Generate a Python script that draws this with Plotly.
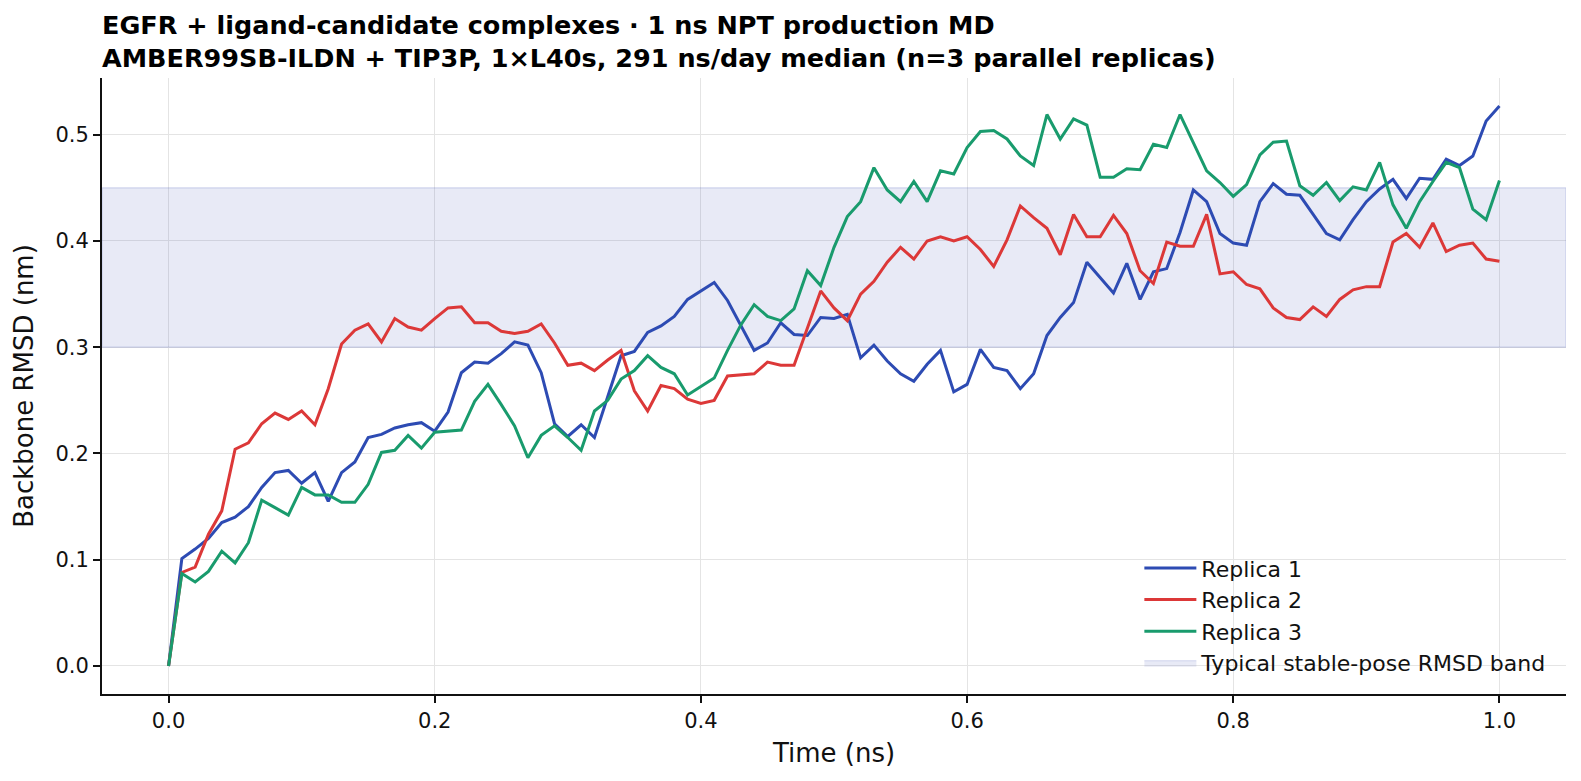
import plotly.graph_objects as go

time_ns = [round(i * 0.01, 2) for i in range(101)]

replica1 = [0.000, 0.101, 0.110, 0.120, 0.135, 0.140, 0.150, 0.168, 0.182, 0.184,
            0.172, 0.182, 0.155, 0.182, 0.192, 0.215, 0.218, 0.224, 0.227, 0.229,
            0.221, 0.239, 0.276, 0.286, 0.285, 0.294, 0.305, 0.302, 0.276, 0.228,
            0.216, 0.227, 0.215, 0.254, 0.292, 0.296, 0.314, 0.320, 0.329, 0.345,
            0.353, 0.361, 0.344, 0.320, 0.297, 0.304, 0.323, 0.312, 0.311, 0.328,
            0.327, 0.331, 0.290, 0.302, 0.287, 0.275, 0.268, 0.284, 0.297, 0.258,
            0.265, 0.298, 0.281, 0.278, 0.261, 0.275, 0.311, 0.328, 0.342, 0.380,
            0.366, 0.351, 0.379, 0.345, 0.371, 0.374, 0.408, 0.448, 0.437, 0.407,
            0.398, 0.396, 0.437, 0.454, 0.444, 0.443, 0.425, 0.407, 0.401, 0.420,
            0.437, 0.449, 0.458, 0.440, 0.459, 0.458, 0.477, 0.471, 0.480, 0.513,
            0.527]

replica2 = [0.000, 0.088, 0.093, 0.124, 0.146, 0.204, 0.210, 0.228, 0.238, 0.232,
            0.240, 0.227, 0.261, 0.303, 0.316, 0.322, 0.305, 0.327, 0.319, 0.316,
            0.327, 0.337, 0.338, 0.323, 0.323, 0.315, 0.313, 0.315, 0.322, 0.304,
            0.283, 0.285, 0.278, 0.288, 0.297, 0.259, 0.240, 0.264, 0.261, 0.251,
            0.247, 0.250, 0.273, 0.274, 0.275, 0.286, 0.283, 0.283, 0.317, 0.353,
            0.337, 0.325, 0.350, 0.362, 0.380, 0.394, 0.383, 0.400, 0.404, 0.400,
            0.404, 0.392, 0.376, 0.401, 0.433, 0.422, 0.412, 0.387, 0.425, 0.404,
            0.404, 0.424, 0.407, 0.372, 0.360, 0.399, 0.395, 0.395, 0.425, 0.369,
            0.371, 0.359, 0.355, 0.337, 0.328, 0.326, 0.338, 0.329, 0.345, 0.354,
            0.357, 0.357, 0.399, 0.407, 0.394, 0.417, 0.390, 0.396, 0.398, 0.383,
            0.381]

replica3 = [0.000, 0.087, 0.079, 0.089, 0.108, 0.097, 0.116, 0.156, 0.149, 0.142,
            0.168, 0.161, 0.161, 0.154, 0.154, 0.171, 0.201, 0.203, 0.217, 0.205,
            0.220, 0.221, 0.222, 0.249, 0.265, 0.246, 0.226, 0.196, 0.217, 0.226,
            0.215, 0.203, 0.240, 0.250, 0.270, 0.278, 0.292, 0.281, 0.275, 0.255,
            0.263, 0.271, 0.297, 0.321, 0.340, 0.329, 0.325, 0.336, 0.372, 0.358,
            0.394, 0.423, 0.437, 0.469, 0.448, 0.437, 0.456, 0.437, 0.466, 0.463,
            0.488, 0.503, 0.504, 0.496, 0.480, 0.471, 0.519, 0.496, 0.515, 0.509,
            0.460, 0.460, 0.468, 0.467, 0.491, 0.488, 0.519, 0.492, 0.466, 0.455,
            0.442, 0.453, 0.481, 0.493, 0.494, 0.452, 0.443, 0.455, 0.438, 0.451,
            0.448, 0.474, 0.434, 0.412, 0.437, 0.456, 0.474, 0.469, 0.430, 0.420,
            0.457]

series_names = ["Replica 1", "Replica 2", "Replica 3"]
series_colors = ["#2d4bb3", "#dc3838", "#199b6d"]
band_low, band_high = 0.30, 0.45
band_name = "Typical stable-pose RMSD band"
x_range = [-0.05, 1.05]
y_range = [-0.0264, 0.5534]
x_ticks = [0.0, 0.2, 0.4, 0.6, 0.8, 1.0]
y_ticks = [0.0, 0.1, 0.2, 0.3, 0.4, 0.5]

title_lines = ["EGFR + ligand-candidate complexes · 1 ns NPT production MD",
               "AMBER99SB-ILDN + TIP3P, 1×L40s, 291 ns/day median (n=3 parallel replicas)"]

FONT = "DejaVu Sans"

fig = go.Figure()

# stable-pose band (spans the whole x axis)
fig.add_trace(go.Scatter(
    x=[x_range[0], x_range[1], x_range[1], x_range[0], x_range[0]],
    y=[band_low, band_low, band_high, band_high, band_low],
    mode="lines", fill="toself",
    fillcolor="rgba(63,81,181,0.12)",
    line=dict(color="rgba(63,81,181,0.2)", width=1.2),
    name=band_name, legendrank=4, hoverinfo="skip",
))

for i, (name, vals, col) in enumerate(zip(series_names, [replica1, replica2, replica3], series_colors)):
    fig.add_trace(go.Scatter(
        x=time_ns, y=vals, mode="lines", name=name,
        line=dict(color=col, width=3), legendrank=i + 1,
    ))

axis_common = dict(
    showline=True, linecolor="#111111", linewidth=1.8,
    ticks="outside", ticklen=7, tickwidth=1.8, tickcolor="#111111",
    showgrid=True, gridcolor="#e4e4e4", gridwidth=1.3,
    zeroline=False, mirror=False,
    tickfont=dict(family=FONT, size=21, color="#111111"),
)

fig.update_layout(
    width=1581, height=781,
    margin=dict(l=102, r=15, t=78, b=87),
    paper_bgcolor="white", plot_bgcolor="white",
    font=dict(family=FONT, color="#111111"),
    title=dict(
        text="<b>" + title_lines[0] + "</b><br><b>" + title_lines[1] + "</b>",
        x=0, xref="paper", xanchor="left",
        y=0.957, yref="container", yanchor="top",
        font=dict(family=FONT, size=25.5, color="#000000"),
    ),
    xaxis=dict(
        range=x_range, tickvals=x_ticks, ticktext=[f"{v:.1f}" for v in x_ticks],
        title=dict(text="Time (ns)", font=dict(family=FONT, size=26, color="#111111"), standoff=12),
        **axis_common,
    ),
    yaxis=dict(
        range=y_range, tickvals=y_ticks, ticktext=[f"{v:.1f}" for v in y_ticks],
        title=dict(text="Backbone RMSD (nm)", font=dict(family=FONT, size=26, color="#111111"), standoff=14),
        **axis_common,
    ),
    legend=dict(
        x=0.99, xanchor="right", y=0.016, yanchor="bottom",
        bgcolor="rgba(0,0,0,0)", borderwidth=0,
        font=dict(family=FONT, size=22, color="#111111"),
        itemwidth=52,
    ),
    showlegend=True,
)

fig.write_html("out.html")
